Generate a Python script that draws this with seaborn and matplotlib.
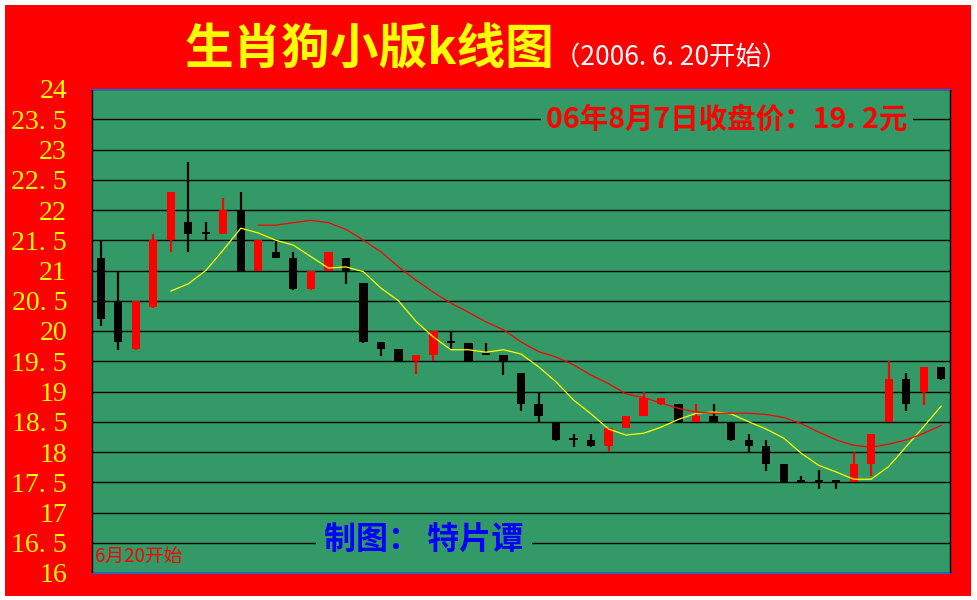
import numpy as np
import pandas as pd
import matplotlib
matplotlib.use('Agg')
import matplotlib.pyplot as plt
import seaborn as sns
from matplotlib.patches import Rectangle

# 数据：每日开盘、收盘、最高、最低
opens = [21.21, 20.49, 19.70, 20.40, 21.50, 21.80, 21.61, 21.61, 22.00, 21.00,
         21.31, 21.21, 20.70, 21.00, 21.21, 20.79, 19.81, 19.71, 19.50, 19.60,
         19.80, 19.80, 19.62, 19.60, 19.30, 18.79, 18.50, 18.20, 18.20, 18.10,
         18.40, 18.60, 18.80, 18.80, 18.50, 18.60, 18.50, 18.20, 18.10, 17.80,
         17.51, 17.51, 17.51, 17.50, 17.80, 18.50, 19.20, 19.00, 19.40]
closes = [20.20, 19.81, 20.49, 21.50, 22.30, 21.61, 21.61, 22.00, 21.00, 21.50,
          21.21, 20.70, 21.00, 21.31, 21.00, 19.81, 19.71, 19.50, 19.61, 20.00,
          19.80, 19.50, 19.60, 19.50, 18.79, 18.60, 18.20, 18.20, 18.10, 18.40,
          18.60, 18.90, 18.90, 18.50, 18.60, 18.50, 18.20, 18.10, 17.80, 17.50,
          17.50, 17.50, 17.50, 17.80, 18.30, 19.20, 18.80, 19.40, 19.20]
highs = [21.50, 20.98, 20.49, 21.60, 22.30, 22.80, 21.80, 22.20, 22.30, 21.50,
         21.50, 21.31, 21.00, 21.31, 21.21, 20.79, 19.81, 19.71, 19.61, 20.00,
         20.00, 19.80, 19.80, 19.60, 19.30, 19.00, 18.50, 18.30, 18.30, 18.40,
         18.60, 19.00, 18.90, 18.80, 18.80, 18.80, 18.50, 18.30, 18.20, 17.80,
         17.60, 17.70, 17.51, 18.00, 18.30, 19.50, 19.30, 19.40, 19.40]
lows = [20.09, 19.69, 19.68, 20.38, 21.30, 21.30, 21.50, 21.60, 21.00, 21.00,
        21.20, 20.68, 20.68, 21.00, 20.78, 19.80, 19.59, 19.50, 19.29, 19.50,
        19.69, 19.50, 19.60, 19.28, 18.68, 18.50, 18.19, 18.08, 18.08, 18.00,
        18.39, 18.59, 18.78, 18.50, 18.50, 18.50, 18.19, 18.00, 17.69, 17.50,
        17.50, 17.39, 17.39, 17.50, 17.60, 18.50, 18.68, 18.78, 19.19]

# 均线（黄色5日、红色10日）
ma5 = [np.nan] * 4 + [
    20.66, 20.78, 21.00, 21.34, 21.70, 21.62, 21.50, 21.42, 21.23, 21.04,
    21.06, 20.98, 20.71, 20.50, 20.16, 19.90, 19.69, 19.69, 19.65, 19.69,
    19.62, 19.41, 19.16, 18.86, 18.63, 18.38, 18.28, 18.31, 18.41, 18.54,
    18.64, 18.66, 18.63, 18.50, 18.38, 18.23, 17.98, 17.78, 17.67, 17.55,
    17.55, 17.76, 18.09, 18.42, 18.76]
ma10 = [np.nan] * 9 + [
    21.75, 21.75, 21.79, 21.83, 21.79, 21.68, 21.50, 21.31, 21.06, 20.84,
    20.64, 20.46, 20.31, 20.15, 20.02, 19.82, 19.66, 19.57, 19.44, 19.27,
    19.13, 18.96, 18.90, 18.81, 18.72, 18.66, 18.64, 18.64, 18.64, 18.62,
    18.57, 18.47, 18.33, 18.20, 18.11, 18.08, 18.13, 18.20, 18.31, 18.44]

ytick_vals = [16, 16.5, 17, 17.5, 18, 18.5, 19, 19.5, 20, 20.5, 21, 21.5, 22, 22.5, 23, 23.5, 24]
ytick_labels = ['16', '16. 5', '17', '17. 5', '18', '18. 5', '19', '19. 5', '20',
                '20. 5', '21', '21. 5', '22', '22. 5', '23', '23. 5', '24']

df = pd.DataFrame({'day': np.arange(len(opens)), 'open': opens, 'close': closes,
                   'high': highs, 'low': lows, 'ma5': ma5, 'ma10': ma10})

sns.set_style('white')
plt.rcParams['font.family'] = ['Noto Sans CJK SC', 'DejaVu Sans']

fig = plt.figure(figsize=(9.77, 6.0), dpi=100, facecolor='white')
bg = Rectangle((5 / 977, 1 - 596 / 600), 966 / 977, 591 / 600,
               transform=fig.transFigure, facecolor='#FF0000',
               edgecolor='none', zorder=-10)
fig.patches.append(bg)

ax = fig.add_axes([92 / 977, 1 - 573 / 600, 858 / 977, 484 / 600])
ax.set_facecolor('#339966')

# K线
up = df['close'] > df['open']
colors = np.where(up, '#FF0000', '#000000')
ax.vlines(df['day'], df['low'], df['high'], colors=colors, linewidth=1.6, zorder=3)
body_bottom = np.minimum(df['open'], df['close'])
body_h = np.maximum(np.abs(df['close'] - df['open']), 0.03)
ax.bar(df['day'], body_h, bottom=body_bottom, width=0.47, color=colors,
       edgecolor='none', zorder=4)

# 均线
sns.lineplot(data=df, x='day', y='ma5', color='#FFFF00', linewidth=0.9, ax=ax, zorder=5)
sns.lineplot(data=df, x='day', y='ma10', color='#FF0000', linewidth=0.9, ax=ax, zorder=5)

ax.set_xlim(-0.5, len(opens) - 0.5)
ax.set_ylim(16, 24)
ax.set_yticks(ytick_vals)
ax.set_yticklabels(ytick_labels, color='#FFFF00', fontsize=20, family='Liberation Serif')
ax.set_xticks([])
ax.set_xlabel('')
ax.set_ylabel('')
ax.tick_params(axis='y', length=0, pad=18)
ax.yaxis.grid(True, color='black', linewidth=1)
ax.set_axisbelow(True)
for side in ['left', 'right']:
    ax.spines[side].set_color('black')
for side in ['top', 'bottom']:
    ax.spines[side].set_color('#3355EE')
for s in ax.spines.values():
    s.set_linewidth(1)

# 文字
fig.text(185 / 977, 1 - 50 / 600, '生肖狗小版k线图', color='#FFFF00', fontsize=35,
         fontweight='bold', ha='left', va='center')
fig.text(554 / 977, 1 - 58 / 600, '（2006. 6. 20开始）', color='white', fontsize=19,
         ha='left', va='center')
ax.text(0.74, 0.937, '06年8月7日收盘价：19. 2元', transform=ax.transAxes, color='#FF0000',
        fontsize=20.5, fontweight='bold', ha='center', va='center', zorder=6,
        bbox=dict(facecolor='#339966', edgecolor='none', pad=4))
ax.text(0.387, 0.068, '制图： 特片谭', transform=ax.transAxes, color='#0000FF',
        fontsize=23, fontweight='bold', ha='center', va='center', zorder=6,
        bbox=dict(facecolor='#339966', edgecolor='none', pad=6))
ax.text(0.004, 0.035, '6月20开始', transform=ax.transAxes, color='#FF0000',
        fontsize=13.5, ha='left', va='center', zorder=6)

fig.savefig('out.png', dpi=100, facecolor='white')
